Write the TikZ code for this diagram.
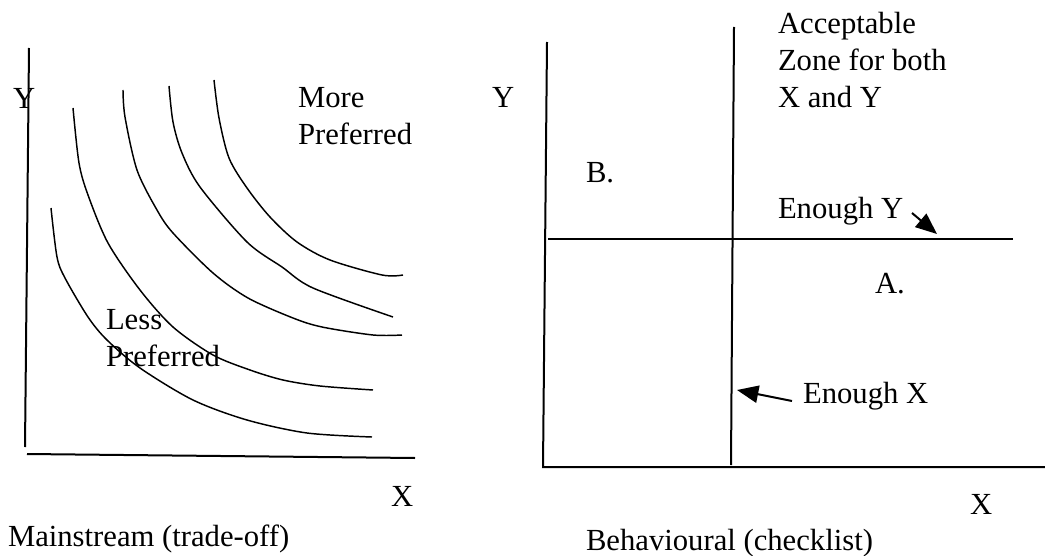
\documentclass[tikz,border=0pt]{standalone}
\usepackage{fontspec}
\setmainfont{Liberation Serif}
\usetikzlibrary{arrows.meta}
\tikzset{every picture/.style={line width=1.5pt}}
\tikzset{curve/.style={line width=1.1pt, smooth, tension=0.5}}

\begin{document}
\begin{tikzpicture}[x=0.75pt, y=-0.75pt, >={Triangle[length=16pt, width=13pt]},
    every node/.style={font=\fontsize{23}{27.75}\selectfont, inner sep=0pt, anchor=base west}]
        \useasboundingbox (0,0) rectangle (1045,556);
        % eixos (troca)
        \coordinate (ytop) at (29,48);
        \coordinate (ybot) at (25,447);
        \coordinate (xleft) at (27,454);
        \coordinate (xright) at (415,458);
        \draw (ytop) -- (ybot);
        \draw (xleft) -- (xright);
        % curvas de indiferenca
        \draw[curve] plot coordinates {(51,208) (57,257) (65,278) (88,317) (107,340) (140,368) (193,400) (247,420) (307,433) (372,437)};
        \draw[curve] plot coordinates {(73,108) (79,163) (88,195) (108,243) (140,290) (173,327) (213,355) (250,370) (283,380) (320,386) (373,390)};
        \draw[curve] plot coordinates {(123,90) (125,117) (137,170) (157,210) (173,233) (213,273) (248,298) (293,318) (322,327) (373,335) (402,335)};
        \draw[curve] plot coordinates {(169,86) (173,122) (182,153) (200,187) (247,242) (282,267) (313,288) (393,317)};
        \draw[curve] plot coordinates {(214,80) (219,118) (229,158) (247,188) (270,217) (297,242) (330,260) (382,275) (403,275)};
        % rotulos (troca)
        \node (ya) at (12,109) {Y};
        \node[align=left] (more) at (297,145) {More\\Preferred};
        \node[align=left] (less) at (105,366) {Less\\Preferred};
        \node (xa) at (390,506) {X};
        \node (main) at (7,546) {Mainstream (trade-off)};
        % eixos (lista)
        \coordinate (btop) at (547,42);
        \coordinate (bo) at (543,467);
        \coordinate (bright) at (1045,467);
        \draw (btop) -- (bo) -- (bright);
        % limites
        \coordinate (extop) at (734,27);
        \coordinate (exbot) at (731,465);
        \coordinate (eyleft) at (548,239);
        \coordinate (eyright) at (1013,239);
        \draw (extop) -- (exbot);
        \draw (eyleft) -- (eyright);
        % rotulos (lista)
        \node (yb) at (491,108) {Y};
        \node[align=left] (zone) at (777,108) {Acceptable\\Zone for both\\X and Y};
        \node (b) at (585,182) {B.};
        \node (enoughy) at (777,218) {Enough Y};
        \node (a) at (874,293) {A.};
        \node (enoughx) at (802,403) {Enough X};
        \node (xb) at (969,514) {X};
        \node (behav) at (585,550) {Behavioural (checklist)};
        % setas
        \coordinate (taily) at (912,213);
        \coordinate (tipy) at (937,234);
        \coordinate (tailx) at (792,401);
        \coordinate (tipx) at (737,390);
        \draw[->] (taily) -- (tipy);
        \draw[->] (tailx) -- (tipx);
\end{tikzpicture}
\end{document}
